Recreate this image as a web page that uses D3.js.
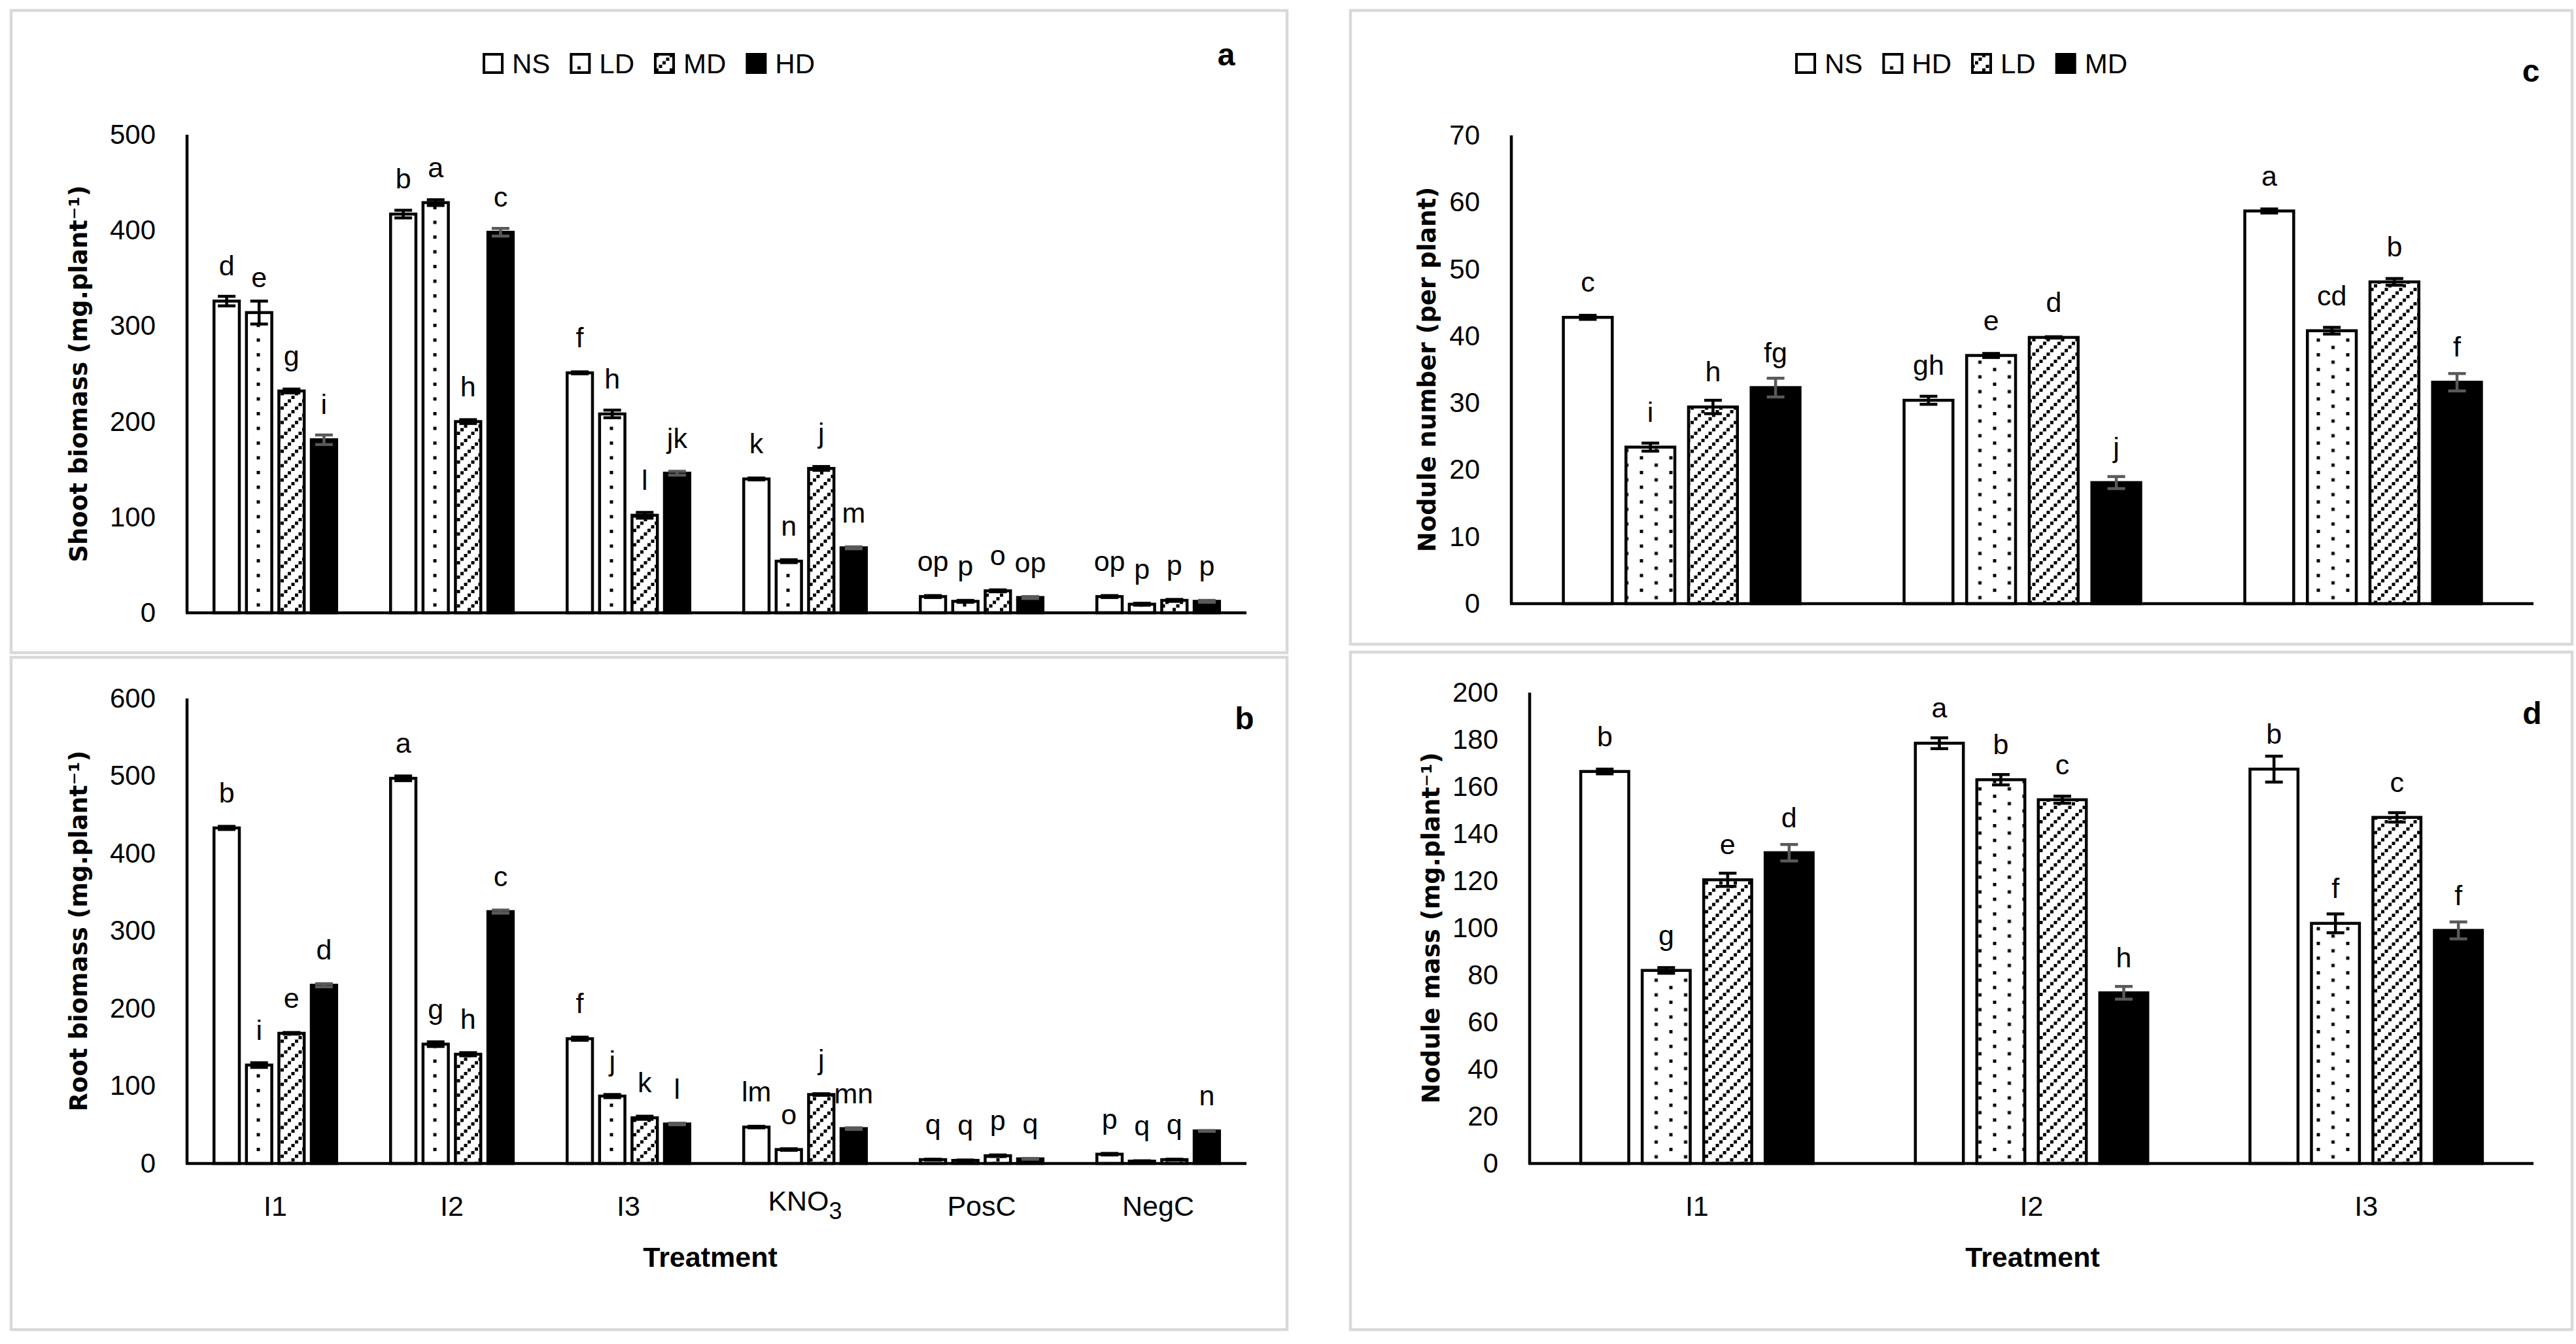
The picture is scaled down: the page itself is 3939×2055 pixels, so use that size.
<!DOCTYPE html>
<html><head><meta charset="utf-8">
<script src="https://cdn.jsdelivr.net/npm/d3@7"></script>
<style>body{margin:0;background:#fff} svg{display:block}</style>
</head><body><svg id="chart" width="3939" height="2055"></svg>
<script>
// ---------- DATA ----------
const catsAB = ["I1","I2","I3","KNO3","PosC","NegC"];
const legendAB = ["NS","LD","MD","HD"];
const shootVals = [[326,314,232,181],[417,429,200,398],[251,208,102,146],[140,54,151,68],[17,12,23,16],[17,9,13,12]];
const shootErr  = [[5,12,2,5],[4,3,2,4],[1,4,3,2],[1,1.5,2,1],[1,1,1,1],[1,1,1,1]];
const shootLbl  = [["d","e","g","i"],["b","a","h","c"],["f","h","l","jk"],["k","n","j","m"],["op","p","o","op"],["op","p","p","p"]];
const shootTicks = [0,100,200,300,400,500];

const rootVals = [[433,127,168,230],[497,154,141,325],[161,87,59,51],[47,18,89,45],[5,4,10,6],[12,3,5,42]];
const rootErr  = [[2,3,1,2],[3,3,2,2],[2,2,2,1],[1,1,1,1],[0.5,0.5,1,0.5],[1,0.5,0.5,0.5]];
const rootLbl  = [["b","i","e","d"],["a","g","h","c"],["f","j","k","l"],["lm","o","j","mn"],["q","q","p","q"],["p","q","q","n"]];
const rootTicks = [0,100,200,300,400,500,600];

const catsCD = ["I1","I2","I3"];
const legendCD = ["NS","HD","LD","MD"];
const nodNumVals = [[42.8,23.4,29.4,32.3],[30.4,37.1,39.8,18.1],[58.7,40.8,48.1,33.1]];
const nodNumErr  = [[0.3,0.6,1.0,1.4],[0.6,0.3,0.1,0.9],[0.3,0.5,0.5,1.3]];
const nodNumLbl  = [["c","i","h","fg"],["gh","e","d","j"],["a","cd","b","f"]];
const nodNumTicks = [0,10,20,30,40,50,60,70];

const nodMassVals = [[166.5,82,120.5,132],[178.5,163,154.5,72.5],[167.5,102,147,99]];
const nodMassErr  = [[1,1.2,2.8,3.5],[2.3,2.2,1.5,2.7],[5.5,4,2,3.6]];
const nodMassLbl  = [["b","g","e","d"],["a","b","c","h"],["b","f","c","f"]];
const nodMassTicks = [0,20,40,60,80,100,120,140,160,180,200];

// ---------- SETUP ----------
const svg = d3.select("#chart");
const defs = svg.append("defs");
const pd = defs.append("pattern").attr("id","dots").attr("patternUnits","userSpaceOnUse")
  .attr("width",45).attr("height",22.5).attr("patternTransform","translate(32.5,0)");
pd.append("rect").attr("width",45).attr("height",22.5).attr("fill","#fff");
[[0,0],[22.5,11.25]].forEach(p=>pd.append("rect").attr("x",p[0]).attr("y",p[1]).attr("width",5).attr("height",5).attr("fill","#000"));
const ph = defs.append("pattern").attr("id","hatch").attr("patternUnits","userSpaceOnUse")
  .attr("width",22).attr("height",22);
ph.append("rect").attr("width",22).attr("height",22).attr("fill","#fff");
[[16.5,0],[11,5.5],[5.5,11],[0,16.5]].forEach(p=>ph.append("rect").attr("x",p[0]).attr("y",p[1]).attr("width",5).attr("height",5).attr("fill","#000"));
const fills = ["#fff","url(#dots)","url(#hatch)","#000"];

const FONT = "'Liberation Sans', Arial, sans-serif";
const TFONT = "'DejaVu Sans', Verdana, sans-serif";

function border(x,y,w,h){
  svg.append("rect").attr("x",x).attr("y",y).attr("width",w).attr("height",h)
    .attr("fill","none").attr("stroke","#d9d9d9").attr("stroke-width",4.5);
}

function legend(cx, cy, labels){
  const g = svg.append("g");
  let x = 0;
  labels.forEach((l,i)=>{
    g.append("rect").attr("x",x+2).attr("y",cy-14).attr("width",28).attr("height",28)
      .attr("fill",fills[i]).attr("stroke","#000").attr("stroke-width",4);
    const t = g.append("text").attr("x",x+45).attr("y",cy+15).text(l)
      .attr("font-family",FONT).attr("font-size",42);
    x += 45 + t.node().getComputedTextLength() + 30;
  });
  const total = x - 30;
  g.attr("transform",`translate(${cx-total/2},0)`);
}

function panel(cfg){
  const x = d3.scaleBand().domain(cfg.cats).range([cfg.x0,cfg.x1]).paddingInner(0).paddingOuter(0);
  const y = d3.scaleLinear().domain([0,cfg.ymax]).range([cfg.y0,cfg.yTop]);
  const bw = x.bandwidth();
  const pitch = bw*0.1837, w = bw*0.1435;
  const g = svg.append("g");
  const rows = [];
  cfg.cats.forEach((c,ci)=>cfg.vals[ci].forEach((v,si)=>rows.push({c,ci,si,v,e:cfg.err[ci][si],l:cfg.lbl[ci][si],
     cx:x(c)+bw/2+(si-1.5)*pitch})));
  g.selectAll("rect.bar").data(rows).join("rect").attr("class","bar")
    .attr("x",d=>d.cx-w/2).attr("y",d=>y(d.v)).attr("width",w).attr("height",d=>y(0)-y(d.v))
    .attr("fill",d=>fills[d.si]).attr("stroke","#000").attr("stroke-width",4.5);
  // error bars
  const eg = g.selectAll("g.err").data(rows).join("g").attr("class","err")
    .attr("stroke",d=>d.si===3?"#595959":"#000").attr("stroke-width",4.5);
  eg.append("line").attr("x1",d=>d.cx).attr("x2",d=>d.cx).attr("y1",d=>y(d.v-d.e)).attr("y2",d=>y(d.v+d.e));
  eg.append("line").attr("x1",d=>d.cx-13.5).attr("x2",d=>d.cx+13.5).attr("y1",d=>y(d.v+d.e)).attr("y2",d=>y(d.v+d.e));
  eg.append("line").attr("x1",d=>d.cx-13.5).attr("x2",d=>d.cx+13.5).attr("y1",d=>y(d.v-d.e)).attr("y2",d=>y(d.v-d.e));
  // letters
  g.selectAll("text.lbl").data(rows).join("text").attr("class","lbl")
    .attr("x",d=>d.cx).attr("y",d=>y(d.v)-39).attr("text-anchor","middle")
    .attr("font-family",FONT).attr("font-size",43).text(d=>d.l);
  // axes
  const ya = d3.axisLeft(y).tickValues(cfg.ticks).tickSize(0).tickPadding(48).tickFormat(d3.format("d"));
  const yg = g.append("g").attr("transform",`translate(${cfg.x0},0)`).call(ya);
  yg.select(".domain").attr("stroke","#000").attr("stroke-width",4.5).attr("d",`M0,${cfg.yTop}V${cfg.y0}`);
  yg.selectAll(".tick text").attr("font-family",FONT).attr("font-size",42).attr("fill","#000");
  const xa = d3.axisBottom(x).tickSize(0).tickPadding(0).tickFormat("");
  const xg = g.append("g").attr("transform",`translate(0,${cfg.y0})`).call(xa);
  xg.select(".domain").attr("stroke","#000").attr("stroke-width",4.5).attr("d",`M${cfg.x0-2},0H${cfg.x1}`);
  if(cfg.xlabels){
    cfg.cats.forEach(c=>{
      const t = g.append("text").attr("x",x(c)+bw/2).attr("text-anchor","middle")
        .attr("font-family",FONT).attr("font-size",43);
      if(c==="KNO3"){
        t.attr("y",cfg.y0+72);
        t.append("tspan").text("KNO");
        t.append("tspan").text("3").attr("font-size",36).attr("dy",13);
      } else {
        t.attr("y",cfg.y0+80).text(c);
      }
    });
    g.append("text").attr("x",cfg.txX).attr("y",cfg.y0+158).attr("text-anchor","middle")
      .attr("font-family",FONT).attr("font-weight","bold").attr("font-size",43).text("Treatment");
  }
  // y title
  g.append("text").attr("transform",`translate(${cfg.titleX},${(cfg.y0+cfg.yTop)/2}) rotate(-90)`)
    .attr("dy","0.3em").attr("text-anchor","middle").attr("font-family",TFONT)
    .attr("font-weight","bold").attr("font-size",37).text(cfg.title);
  // panel letter
  g.append("text").attr("x",cfg.letter[0]).attr("y",cfg.letter[1]).attr("text-anchor","middle")
    .attr("font-family",FONT).attr("font-weight","bold").attr("font-size",48).text(cfg.letter[2]);
}

border(17,16,1951,982);
border(17,1005,1951,1028);
border(2065,16,1868,969);
border(2065,997,1868,1036);

panel({cats:catsAB, vals:shootVals, err:shootErr, lbl:shootLbl, ticks:shootTicks, ymax:500,
  x0:286, x1:1906, y0:937, yTop:206, title:"Shoot biomass (mg.plant⁻¹)", titleX:122, letter:[1875,100,"a"]});
panel({cats:catsAB, vals:rootVals, err:rootErr, lbl:rootLbl, ticks:rootTicks, ymax:600,
  x0:286, x1:1906, y0:1779, yTop:1068, title:"Root biomass (mg.plant⁻¹)", titleX:122, letter:[1903,1115,"b"],
  xlabels:true, txX:1086});
panel({cats:catsCD, vals:nodNumVals, err:nodNumErr, lbl:nodNumLbl, ticks:nodNumTicks, ymax:70,
  x0:2311, x1:3874, y0:923, yTop:207, title:"Nodule number (per plant)", titleX:2184, letter:[3870,125,"c"]});
panel({cats:catsCD, vals:nodMassVals, err:nodMassErr, lbl:nodMassLbl, ticks:nodMassTicks, ymax:200,
  x0:2339, x1:3874, y0:1779, yTop:1059, title:"Nodule mass (mg.plant⁻¹)", titleX:2190, letter:[3872,1107,"d"],
  xlabels:true, txX:3108});

legend(992, 97, legendAB);
legend(2999, 97, legendCD);
</script></body></html>
